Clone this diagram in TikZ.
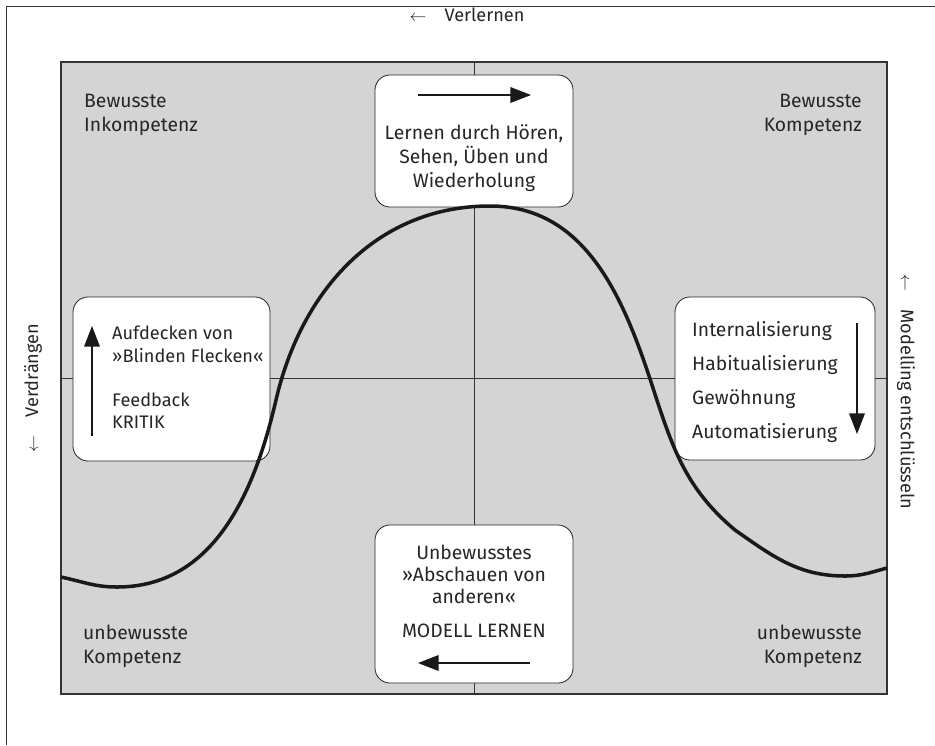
\documentclass[tikz,border=0pt]{standalone}
\usepackage{fontspec}
\setmainfont{Fira Sans}
\usetikzlibrary{arrows.meta}
\begin{document}
\begin{tikzpicture}[
        x=0.03cm, y=-0.03cm,
        rahmen/.style={draw=black!80, line width=0.8pt},
        feld/.style={fill=black!17, draw=black!80, line width=0.9pt},
        achse/.style={draw=black!80, line width=0.8pt},
        kasten/.style={rectangle, rounded corners=0.45cm, draw=black!85, fill=white, line width=0.7pt},
        etikett/.style={inner sep=0pt, text=black!85, font=\fontsize{16.5}{20.5}\selectfont},
        pfeil/.style={-{Triangle[length=0.62cm,width=0.47cm]}, line width=1.2pt, black!90},
        kurve/.style={line width=3pt, black!90, line join=round}
    ]
        \useasboundingbox (0,0) rectangle (935,745);

        % Rahmen und Feld
        \draw[rahmen] (6,745) -- (6,6) -- (935,6);
        \draw[feld] (61,62) rectangle (887,694);
        \draw[achse] (474,62) -- (474,694);
        \draw[achse] (61,378) -- (887,378);

        % Quadranten
        \node[etikett, anchor=north west, align=left] (bi) at (84,94) {Bewusste\\Inkompetenz};
        \node[etikett, anchor=north east, align=right] (bk) at (862,94) {Bewusste\\Kompetenz};
        \node[etikett, anchor=south west, align=left] (ukl) at (83,668) {unbewusste\\Kompetenz};
        \node[etikett, anchor=south east, align=right] (ukr) at (862,668) {unbewusste\\Kompetenz};

        % Kaesten
        \node[kasten, minimum width=5.94cm, minimum height=3.96cm] (lernen) at (474,141) {};
        \node[kasten, minimum width=5.91cm, minimum height=4.92cm] (feedback) at (171.5,379) {};
        \node[kasten, minimum width=6cm, minimum height=4.89cm] (gewohnheit) at (775,378.5) {};
        \node[kasten, minimum width=5.94cm, minimum height=4.74cm] (modell) at (474,604) {};

        \node[etikett, anchor=north, align=center] (lernentext) at (474,124)
            {Lernen durch Hören,\\Sehen, Üben und\\Wiederholung};
        \node[etikett, anchor=north west, align=left, font=\fontsize{15.5}{19}\selectfont] (feedbacktext) at (112,326)
            {Aufdecken von\\»Blinden Flecken«\\[19pt]Feedback\\KRITIK};
        \node[etikett, anchor=north west, align=left, font=\fontsize{16.5}{29}\selectfont] (gewohnheittext) at (692,321)
            {Internalisierung\\Habitualisierung\\Gewöhnung\\Automatisierung};
        \node[etikett, anchor=north, align=center, font=\fontsize{16.5}{18.5}\selectfont] (modelltext) at (474,545)
            {Unbewusstes\\»Abschauen von\\anderen«\\[11pt]MODELL LERNEN};

        % Pfeile in den Kaesten
        \coordinate (lernenA) at (418,95);
        \coordinate (lernenB) at (531,95);
        \coordinate (feedbackA) at (92,436);
        \coordinate (feedbackB) at (92,326);
        \coordinate (gewohnheitA) at (857,323);
        \coordinate (gewohnheitB) at (857,434);
        \coordinate (modellA) at (530,663);
        \coordinate (modellB) at (418,663);
        \draw[pfeil] (lernenA) -- (lernenB);
        \draw[pfeil] (feedbackA) -- (feedbackB);
        \draw[pfeil] (gewohnheitA) -- (gewohnheitB);
        \draw[pfeil] (modellA) -- (modellB);

        % Achsenbeschriftung
        \node[etikett, font=\fontsize{15.5}{19}\selectfont] (verlernen) at (467,15) {$\leftarrow$\quad Verlernen};
        \node[etikett, font=\fontsize{15.5}{19}\selectfont, rotate=90] (verdraengen) at (33,388) {$\leftarrow$\quad Verdrängen};
        \node[etikett, font=\fontsize{15.5}{19}\selectfont, rotate=-90] (modelling) at (906,392) {$\leftarrow$\quad Modelling entschlüsseln};

        % Kurve
        \coordinate (k0) at (61,577);
        \coordinate (k1) at (117,587);
        \coordinate (k2) at (276,400);
        \coordinate (k3) at (490,206);
        \coordinate (k4) at (652,385);
        \coordinate (k5) at (735,530);
        \coordinate (k6) at (845,576);
        \coordinate (k7) at (887,568);
        \draw[kurve] (k0) to[out=-12, in=180] (k1) to[out=0, in=-103] (k2) to[out=77, in=180] (k3)
            to[out=0, in=108] (k4) to[out=-72, in=140] (k5) to[out=-35, in=180] (k6) to[out=0, in=195] (k7);

    \end{tikzpicture}
\end{document}
